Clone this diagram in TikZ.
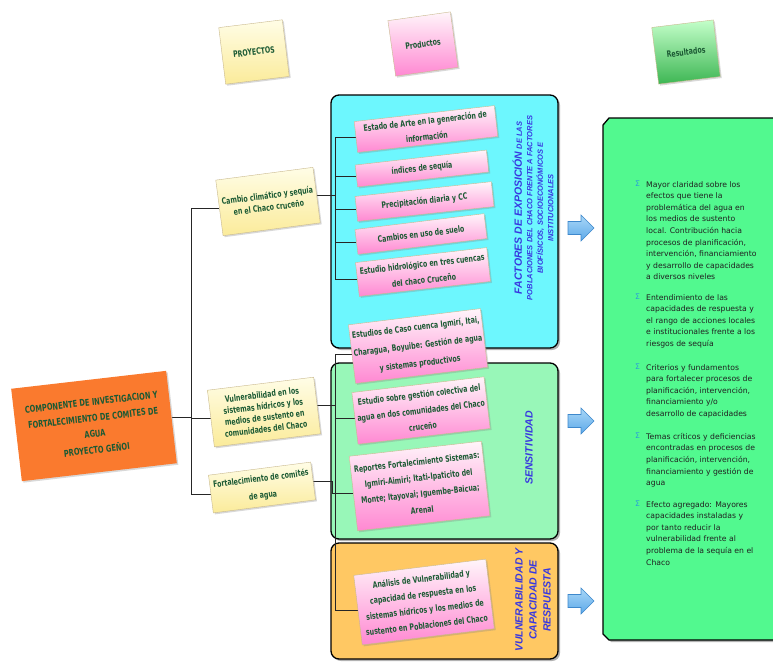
\documentclass[tikz,border=0pt]{standalone}
\usepackage{fontspec}
\usetikzlibrary{shadows}
\newfontfamily\hand{DejaVu Sans}[FakeStretch=0.71]
\newfontfamily\lab{Liberation Sans}
\newfontfamily\res{DejaVu Sans}
\definecolor{cyanbox}{HTML}{6DF7FE}
\definecolor{senbox}{HTML}{98F7B8}
\definecolor{vulbox}{HTML}{FFC863}
\definecolor{resbox}{HTML}{52F98F}
\definecolor{labblue}{HTML}{3838E0}
\definecolor{notetext}{HTML}{1C5A34}
\definecolor{notebrd}{HTML}{C9B98E}
\definecolor{ylwtop}{HTML}{FFFDE6}
\definecolor{ylwbot}{HTML}{FBEB9A}
\definecolor{pinktop}{HTML}{FFF5FA}
\definecolor{pinkbot}{HTML}{FF88D2}
\definecolor{grntop}{HTML}{C4FFCA}
\definecolor{grnbot}{HTML}{3DB653}
\definecolor{orangenote}{HTML}{FA7A2E}
\definecolor{sigblue}{HTML}{2A9FD8}
\definecolor{restxt}{HTML}{202020}
\definecolor{arrtop}{HTML}{A9D7F7}
\definecolor{arrbot}{HTML}{5DA9E9}
\definecolor{arrbrd}{HTML}{3E88CC}
\pgfdeclarelayer{boxes}
\pgfdeclarelayer{lines}
\pgfsetlayers{boxes,lines,main}
\tikzset{
  note/.style={draw=notebrd, line width=0.4pt, align=center, inner sep=0pt,
    font=\hand\bfseries\fontsize{8.8}{16}\selectfont, text=notetext,
    drop shadow={shadow xshift=1.5pt, shadow yshift=-1.5pt, opacity=0.3}},
  yellownote/.style={note, top color=ylwtop, bottom color=ylwbot},
  pinknote/.style={note, top color=pinktop, bottom color=pinkbot},
  greennote/.style={note, top color=grntop, bottom color=grnbot},
  groupbox/.style={draw=black, line width=1.3pt, rounded corners=8pt,
    drop shadow={shadow xshift=2pt, shadow yshift=-2pt, opacity=0.6}},
  conn/.style={draw=black!85, line width=0.8pt},
  bluelab/.style={font=\lab\bfseries\itshape\fontsize{7.5}{10.5}\selectfont,
    text=labblue, align=center, inner sep=0pt},
  restext/.style={font=\res\fontsize{7.7}{11.6}\selectfont, align=left,
    anchor=north west, inner sep=0pt, text=restxt},
  sig/.style={font=\res\fontsize{7.7}{11.6}\selectfont, anchor=north west,
    inner sep=0pt, text=sigblue},
  barrow/.pic={\path[top color=arrtop, bottom color=arrbot, draw=arrbrd, line width=0.6pt]
    (-13,-6.5) -- (0,-6.5) -- (0,-13) -- (13,0) -- (0,13) -- (0,6.5) -- (-13,6.5) -- cycle;}
}
\begin{document}
\begin{tikzpicture}[x=1pt,y=-1pt]
\useasboundingbox (0,0) rectangle (773,661);

\begin{pgfonlayer}{boxes}
\fill[white] (0,0) rectangle (773,661);
% group boxes
\node[groupbox, fill=cyanbox, minimum width=227pt, minimum height=253pt] (gExp) at (444.5,221.5) {};
\node[groupbox, fill=senbox, minimum width=227pt, minimum height=176pt] (gSen) at (444.5,451) {};
\node[groupbox, fill=vulbox, minimum width=227pt, minimum height=116pt] (gVul) at (444.5,601) {};
% results box (bevelled left corners)
\path[draw=black, line width=1.3pt, fill=resbox,
  drop shadow={shadow xshift=2pt, shadow yshift=-2pt, opacity=0.6}]
  (603,125) -- (609,118) -- (790,118) -- (790,640) -- (609,640) -- (603,634) -- cycle;
\end{pgfonlayer}

% column titles
\node[yellownote, minimum width=64pt, minimum height=57pt, rotate=7] (t1) at (254,52) {PROYECTOS};
\node[pinknote, minimum width=63pt, minimum height=56pt, rotate=8] (t2) at (423,44) {Productos};
\node[greennote, minimum width=62pt, minimum height=57pt, rotate=7] (t3) at (686,52) {Resultados};

% arrows
\pic (a1) at (581,228) {barrow};
\pic (a2) at (581,421) {barrow};
\pic (a3) at (581,601) {barrow};

% group labels
\node[bluelab, rotate=90] (lExp) at (533,208)
  {{\fontsize{10.5}{11}\selectfont FACTORES DE EXPOSICIÓN} DE LAS\\POBLACIONES DEL CHACO FRENTE A FACTORES\\BIOFÍSICOS, SOCIOECONÓMICOS E\\INSTITUCIONALES};
\node[bluelab, rotate=90, font=\lab\bfseries\itshape\fontsize{10.5}{14}\selectfont] (lSen) at (529,448) {SENSITIVIDAD};
\node[bluelab, rotate=90, font=\lab\bfseries\itshape\fontsize{10.5}{14}\selectfont] (lVul) at (533,600) {VULNERABILIDAD Y\\CAPACIDAD DE\\RESPUESTA};

% results text
\node[sig] (s1) at (635,181) {Σ};
\node[restext] (b1) at (646,181) {Mayor claridad sobre los\\efectos que tiene la\\problemática del agua en\\los medios de sustento\\local. Contribución hacia\\procesos de planificación,\\intervención, financiamiento\\y desarrollo de capacidades\\a diversos niveles};
\node[sig] (s2) at (635,294) {Σ};
\node[restext] (b2) at (646,294) {Entendimiento de las\\capacidades de respuesta y\\el rango de acciones locales\\e institucionales frente a los\\riesgos de sequía};
\node[sig] (s3) at (635,364) {Σ};
\node[restext] (b3) at (646,364) {Criterios y fundamentos\\para fortalecer procesos de\\planificación, intervención,\\financiamiento y/o\\desarrollo de capacidades};
\node[sig] (s4) at (635,433) {Σ};
\node[restext] (b4) at (646,433) {Temas críticos y deficiencias\\encontradas en procesos de\\planificación, intervención,\\financiamiento y gestión de\\agua};
\node[sig] (s5) at (635,501) {Σ};
\node[restext] (b5) at (646,501) {Efecto agregado: Mayores\\capacidades instaladas y\\por tanto reducir la\\vulnerabilidad frente al\\problema de la sequía en el\\Chaco};

% project notes
\node[yellownote, minimum width=98pt, minimum height=56pt, rotate=7.5,
  font=\hand\bfseries\fontsize{8.8}{12}\selectfont] (p1) at (268,201.5) {Cambio climático y sequía\\en el Chaco cruceño};
\node[yellownote, minimum width=107pt, minimum height=57pt, rotate=7,
  font=\hand\bfseries\fontsize{8.8}{11.5}\selectfont] (p2) at (264,412) {Vulnerabilidad en los\\sistemas hídricos y los\\medios de sustento en\\comunidades del Chaco};
\node[yellownote, minimum width=103pt, minimum height=38pt, rotate=7.3,
  font=\hand\bfseries\fontsize{8.8}{17}\selectfont] (p3) at (262,487.5) {Fortalecimiento de comités\\de agua};

% product notes
\node[pinknote, minimum width=141pt, minimum height=31pt, rotate=6.5] (q1) at (426,129) {Estado de Arte en la generación de\\información};
\node[pinknote, minimum width=132pt, minimum height=22pt, rotate=6.5] (q2) at (422,168.5) {índices de sequía};
\node[pinknote, minimum width=137pt, minimum height=25pt, rotate=6.2] (q3) at (424.5,201.5) {Precipitación diaria y CC};
\node[pinknote, minimum width=130pt, minimum height=25pt, rotate=7] (q4) at (421,234) {Cambios en uso de suelo};
\node[pinknote, minimum width=132pt, minimum height=34pt, rotate=6.5] (q5) at (423,272) {Estudio hidrológico en tres cuencas\\del chaco Cruceño};
\node[pinknote, minimum width=133pt, minimum height=59pt, rotate=7,
  font=\hand\bfseries\fontsize{8.8}{18}\selectfont] (q6) at (418,346) {Estudios de Caso cuenca Igmirí, Itai,\\Charagua, Boyuibe: Gestión de agua\\y sistemas productivos};
\node[pinknote, minimum width=133pt, minimum height=52pt, rotate=6.8] (q7) at (421,410.5) {Estudio sobre gestión colectiva del\\agua en dos comunidades del Chaco\\cruceño};
\node[pinknote, minimum width=133pt, minimum height=75pt, rotate=6.5] (q8) at (419.5,486) {Reportes Fortalecimiento Sistemas:\\Igmiri-Aimiri; Itati-Ipaticito del\\Monte; Itayovai; Iguembe-Baicua;\\Arenal};
\node[pinknote, minimum width=133pt, minimum height=70pt, rotate=7,
  font=\hand\bfseries\fontsize{8.8}{15.5}\selectfont] (q9) at (424,602) {Análisis de Vulnerabilidad y\\capacidad de respuesta en los\\sistemas hídricos y los medios de\\sustento en Poblaciones del Chaco};

% main note
\node[note, fill=orangenote, draw=none, minimum width=156pt, minimum height=93pt, rotate=6.6,
  font=\hand\bfseries\fontsize{9.4}{16}\selectfont] (main) at (94,426)
  {COMPONENTE DE INVESTIGACION Y\\FORTALECIMIENTO DE COMITES DE\\AGUA\\PROYECTO GEÑOI};

% connector helpers
\coordinate (tr) at (191,0);
\coordinate (va) at (335,0);
\coordinate (vc) at (332,0);

% connectors (below the notes)
\begin{pgfonlayer}{lines}
\draw[conn] (main.east) -- (main.east -| tr);
\draw[conn] (p1.west) -- (p1.west -| tr) -- (p3.west -| tr) -- (p3.west);
\draw[conn] (p2.west) -- (p2.west -| tr);
\draw[conn] (p1.east) -- (p1.east -| va);
\draw[conn] (q1.west -| va) -- (q5.west -| va);
\foreach \q in {q1,q2,q3,q4,q5} \draw[conn] (\q.west -| va) -- (\q.west);
\draw[conn] (p2.east) -- (p2.east -| va);
\draw[conn] (q6.west -| va) -- (q9.west -| va);
\foreach \q in {q6,q7,q9} \draw[conn] (\q.west -| va) -- (\q.west);
\draw[conn] (p3.east) -- (p3.east -| vc) -- (q8.west -| vc) -- (q8.west);
\end{pgfonlayer}
\end{tikzpicture}
\end{document}
